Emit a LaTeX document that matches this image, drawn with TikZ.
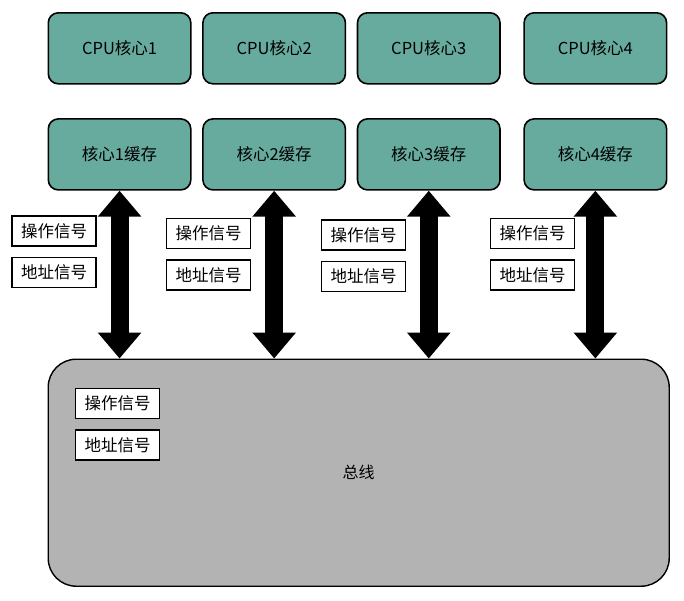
\documentclass[tikz,border=0pt]{standalone}
\usepackage{fontspec}
\setmainfont{Noto Sans CJK SC}
\usetikzlibrary{positioning,arrows.meta}
\definecolor{coregreen}{HTML}{67AB9F}
\definecolor{busgray}{HTML}{B3B3B3}
\tikzstyle{cbox}=[rectangle, rounded corners=10pt, draw=black, fill=coregreen,
                  line width=1.6pt, minimum width=142.5pt, minimum height=71pt,
                  inner sep=2pt, text centered, font=\fontsize{16.5}{19}\selectfont]
\tikzstyle{sbox}=[rectangle, draw=black, fill=white, line width=1.5pt,
                  minimum width=84pt, minimum height=30pt, inner sep=2pt,
                  text centered, font=\fontsize{16.5}{19}\selectfont]
\tikzstyle{busbox}=[rectangle, rounded corners=28pt, draw=black, fill=busgray,
                  line width=1.4pt, minimum width=621pt, minimum height=227pt,
                  text centered, font=\fontsize{16}{19}\selectfont]
\tikzstyle{barrow}=[{Triangle[length=26pt,width=42pt]}-{Triangle[length=26pt,width=42pt]},
                  line width=18pt]
\begin{document}
\begin{tikzpicture}[x=1pt,y=1pt,node distance=0pt]
\useasboundingbox (0,0) rectangle (684,-600);

% cores
\node (CPU1) [cbox, anchor=north west] at (47.5,-12) {CPU核心1};
\node (CPU2) [cbox, right=10.5pt of CPU1] {CPU核心2};
\node (CPU3) [cbox, right=10.5pt of CPU2] {CPU核心3};
\node (CPU4) [cbox, right=22.5pt of CPU3] {CPU核心4};

% caches
\node (Cache1) [cbox, below=33.5pt of CPU1] {核心1缓存};
\node (Cache2) [cbox, below=33.5pt of CPU2] {核心2缓存};
\node (Cache3) [cbox, below=33.5pt of CPU3] {核心3缓存};
\node (Cache4) [cbox, below=33.5pt of CPU4] {核心4缓存};

% bus
\node (BUS) [busbox, anchor=north west] at (47.5,-358.5) {总线};

% signals
\node (OP1) [sbox] at (54,-231) {操作信号};
\node (AD1) [sbox, below=10pt of OP1] {地址信号};
\node (OP2) [sbox] at (208.5,-233.5) {操作信号};
\node (AD2) [sbox, below=10pt of OP2] {地址信号};
\node (OP3) [sbox] at (363.5,-235) {操作信号};
\node (AD3) [sbox, below=10pt of OP3] {地址信号};
\node (OP4) [sbox] at (532.5,-233.5) {操作信号};
\node (AD4) [sbox, below=10pt of OP4] {地址信号};
\node (OPB) [sbox] at (117.5,-403.5) {操作信号};
\node (ADB) [sbox, below=10pt of OPB] {地址信号};

% links
\draw[barrow] (Cache1.south) -- (Cache1.south |- BUS.north);
\draw[barrow] (Cache2.south) -- (Cache2.south |- BUS.north);
\draw[barrow] (Cache3.south) -- (Cache3.south |- BUS.north);
\draw[barrow] (Cache4.south) -- (Cache4.south |- BUS.north);

\end{tikzpicture}
\end{document}
